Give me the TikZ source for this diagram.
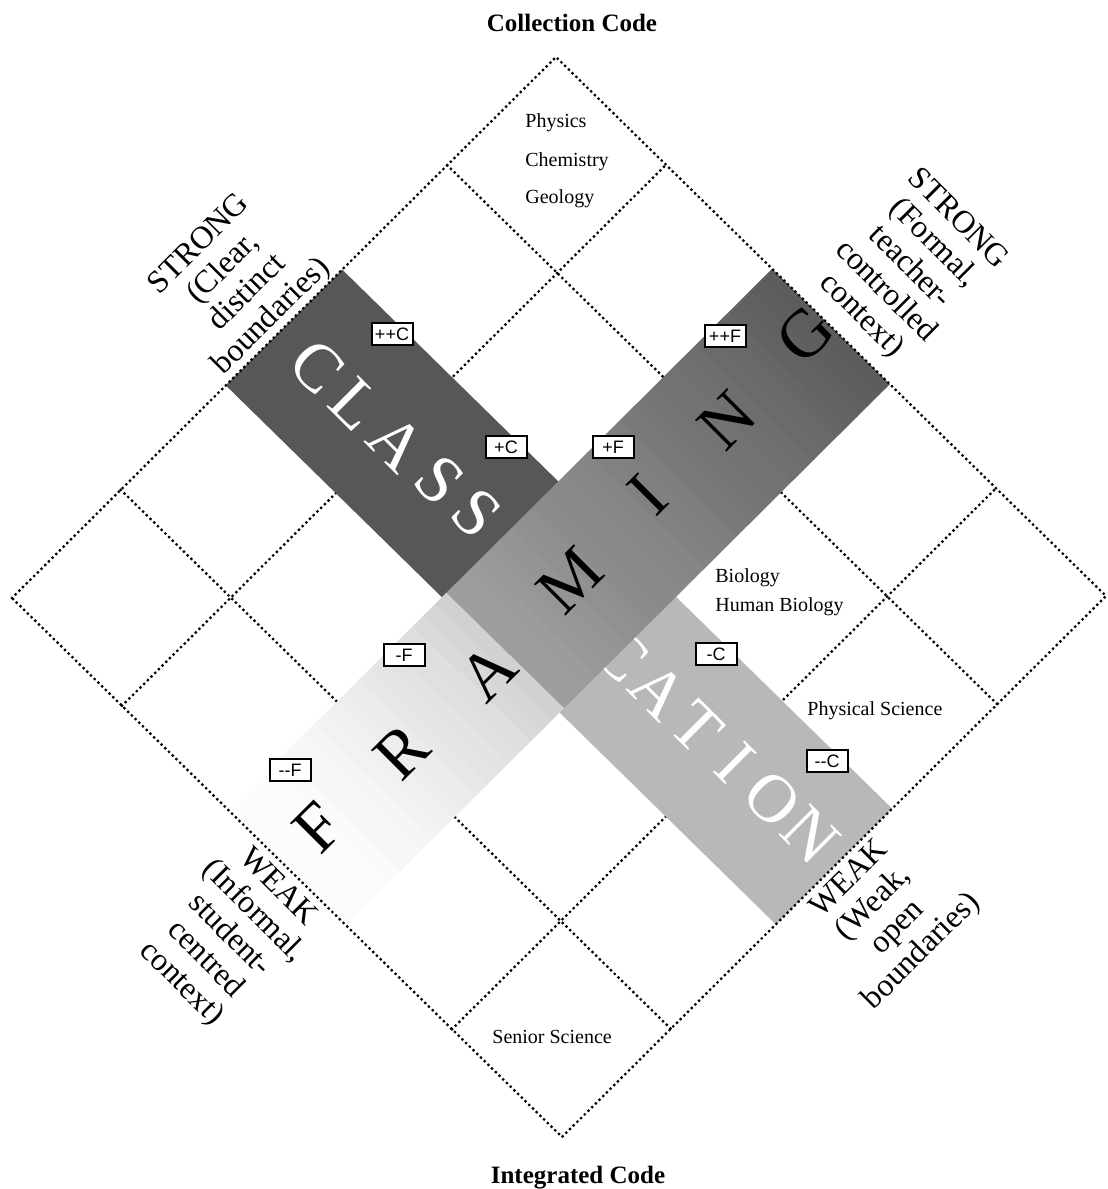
\documentclass[tikz,border=0pt]{standalone}
\usepackage{fontspec}
\setmainfont{Liberation Serif}
\newfontfamily\boxfont{Liberation Sans}
\begin{document}
\begin{tikzpicture}[x=0.5pt,y=-0.5pt,
  uv/.style={shift={(12,598)}, x={(272pt,270.5pt)}, y={(275pt,-269.5pt)}},
  gridline/.style={line width=1.6pt, line cap=round, dash pattern=on 0pt off 2.6pt},
  codebox/.style={draw, line width=1pt, fill=white, font=\boxfont\fontsize{9}{9}\selectfont, minimum width=20.5pt, minimum height=11pt, inner sep=0.5pt},
  cellt/.style={font=\fontsize{10}{12}\selectfont, inner sep=0pt, anchor=base west},
  sidet/.style={font=\fontsize{16}{17}\selectfont, align=center, inner sep=0pt},
  titlet/.style={font=\bfseries\fontsize{12.5}{15}\selectfont, inner sep=0pt, anchor=base},
  clet/.style={text=white, rotate=-45, font=\fontsize{34}{34}\selectfont, inner sep=0pt},
  flet/.style={text=black, rotate=45, font=\fontsize{34}{34}\selectfont, inner sep=0pt}]
\useasboundingbox (0,0) rectangle (1108,1189);
\fill[white] (0,0) rectangle (1108,1189);

% grid lines (under the bands)
\begin{scope}[uv]
  \coordinate (L) at (0,0);
  \coordinate (T) at (1,0);
  \coordinate (R) at (1,1);
  \coordinate (B) at (0,1);
  \coordinate (ua1) at (0.2,0); \coordinate (ub1) at (0.2,1);
  \coordinate (ua2) at (0.8,0); \coordinate (ub2) at (0.8,1);
  \coordinate (va1) at (0,0.2); \coordinate (vb1) at (1,0.2);
  \coordinate (va2) at (0,0.8); \coordinate (vb2) at (1,0.8);
  \draw[gridline] (ua1) -- (ub1);
  \draw[gridline] (ua2) -- (ub2);
  \draw[gridline] (va1) -- (vb1);
  \draw[gridline] (va2) -- (vb2);
  % band 1 (classification), dark part and light part
  \fill[black!66] (0.393,0) -- (0.607,0) -- (0.607,0.4) -- (0.393,0.4) -- cycle;
  \fill[black!28] (0.393,0.6) -- (0.607,0.6) -- (0.607,1) -- (0.393,1) -- cycle;
\end{scope}

% classification letters
\node[clet] (c1) at (317,367) {C};
\node[clet] (c2) at (356,404) {L};
\node[clet] (c3) at (397,443) {A};
\node[clet] (c4) at (440,480) {S};
\node[clet] (c5) at (477,513) {S};
\node[clet] (c6) at (510,545) {I};
\node[clet] (c9) at (621,655) {C};
\node[clet] (c10) at (659,691) {A};
\node[clet] (c11) at (697,727) {T};
\node[clet] (c12) at (735,763) {I};
\node[clet] (c13) at (773,799) {O};
\node[clet] (c14) at (811,835) {N};

% band 2 (framing)
\begin{scope}[uv]
  \foreach \i in {0,...,29} {
    \pgfmathsetmacro\ua{0.4+0.02*\i}
    \pgfmathsetmacro\ub{min(\ua+0.021,1)}
    \pgfmathtruncatemacro\cc{38+26*\i/29}
    \fill[black!\cc] (\ua,0.393) -- (\ub,0.393) -- (\ub,0.607) -- (\ua,0.607) -- cycle;
  }
  \foreach \i in {0,...,19} {
    \pgfmathsetmacro\ua{0.02*\i}
    \pgfmathsetmacro\ub{\ua+0.021}
    \pgfmathtruncatemacro\cc{1+17*(\i/19)^1.6}
    \fill[black!\cc] (\ua,0.393) -- (\ub,0.393) -- (\ub,0.607) -- (\ua,0.607) -- cycle;
  }
\end{scope}

% framing letters
\node[flet] (f1) at (318,827) {F};
\node[flet] (f2) at (402,752) {R};
\node[flet] (f3) at (488,672) {A};
\node[flet] (f4) at (570,580) {M};
\node[flet] (f5) at (648,495) {I};
\node[flet] (f6) at (727,420) {N};
\node[flet] (f7) at (805,334) {G};

% code boxes
\node[codebox] (bpc2) at (392,334) {++C};
\node[codebox] (bpc1) at (506,447) {+C};
\node[codebox] (bpf1) at (613,447) {+F};
\node[codebox] (bpf2) at (725,336) {++F};
\node[codebox] (bmf1) at (404,655) {-F};
\node[codebox] (bmf2) at (290,770) {-{}-F};
\node[codebox] (bmc1) at (716,654) {-C};
\node[codebox] (bmc2) at (827,761) {-{}-C};

% outer diamond
\draw[gridline] (L) -- (T) -- (R) -- (B) -- cycle;

% cell texts
\node[cellt] (phy) at (525,127) {Physics};
\node[cellt] (che) at (525,166) {Chemistry};
\node[cellt] (geo) at (525,203) {Geology};
\node[cellt] (bio) at (715,582) {Biology};
\node[cellt] (hbio) at (715,611) {Human Biology};
\node[cellt] (phs) at (807,715) {Physical Science};
\node[cellt] (sen) at (492,1043) {Senior Science};

% titles
\node[titlet] (cc) at (572,31) {Collection Code};
\node[titlet] (ic) at (578,1183) {Integrated Code};

% side labels
\node[sidet, rotate=45] (sl1) at (236,281) {STRONG\\(Clear,\\distinct\\boundaries)};
\node[sidet, rotate=-45] (sl2) at (909,268) {STRONG\\(Formal,\\teacher-\\controlled\\context)};
\node[sidet, rotate=-45] (sl3) at (229,936) {WEAK\\(Informal,\\student-\\centred\\context)};
\node[sidet, rotate=45] (sl4) at (886,916) {WEAK\\(Weak,\\open\\boundaries)};
\end{tikzpicture}
\end{document}
